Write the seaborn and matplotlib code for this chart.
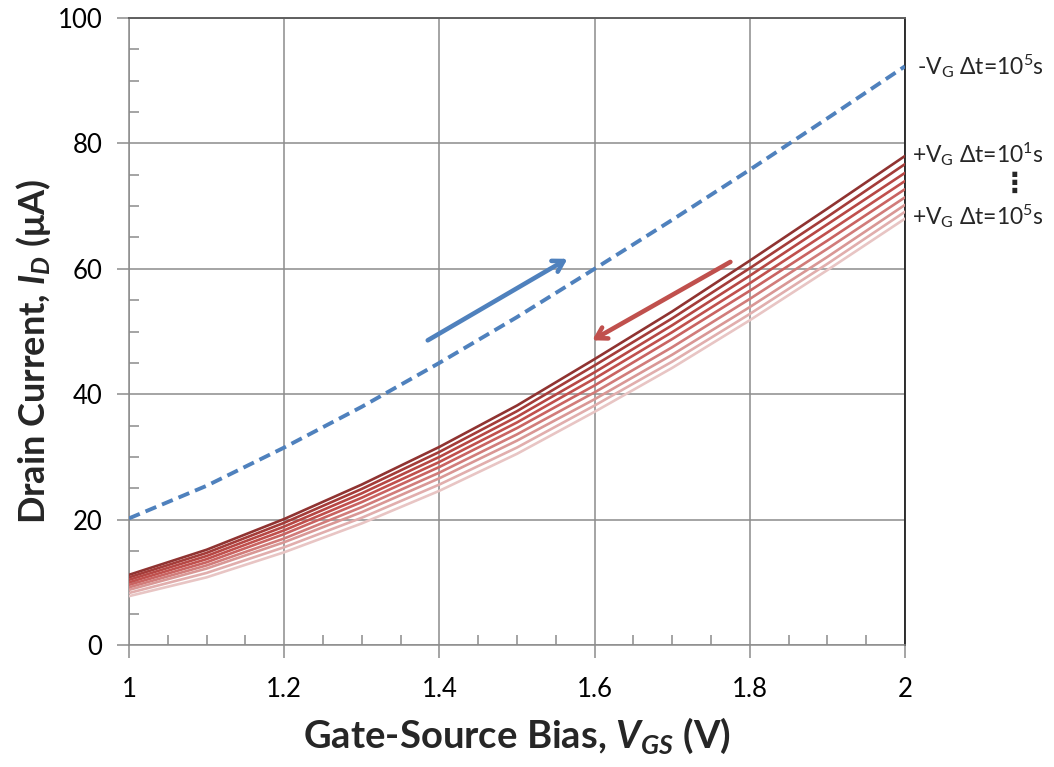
import numpy as np
import pandas as pd
import matplotlib
matplotlib.use("Agg")
import matplotlib.pyplot as plt
from matplotlib.ticker import MultipleLocator, FuncFormatter
import seaborn as sns

sns.set_style("white")
plt.rcParams["font.family"] = ["Lato", "DejaVu Sans"]
plt.rcParams["mathtext.fontset"] = "custom"
plt.rcParams["mathtext.rm"] = "Lato"
plt.rcParams["mathtext.it"] = "Lato:italic"
plt.rcParams["mathtext.bf"] = "Lato:bold"
plt.rcParams["mathtext.bfit"] = "Lato:bold:italic"

# Gate-source bias sweep (V)
vgs = [1.0, 1.1, 1.2, 1.3, 1.4, 1.5, 1.6, 1.7, 1.8, 1.9, 2.0]

# Drain current (uA) after negative gate stress, 1e5 s
neg_stress_1e5 = [20.2, 25.4, 31.5, 38.0, 45.0, 52.3, 60.0, 67.8, 75.8, 84.0, 92.3]

# Drain current (uA) after positive gate stress, 1e1 ... 1e5 s
pos_stress_times = ["1e1", "1e1.5", "1e2", "1e2.5", "1e3", "1e3.5", "1e4", "1e4.5", "1e5"]
pos_t1e1 = [11.2, 15.2, 20.1, 25.6, 31.6, 38.2, 45.6, 53.2, 61.3, 69.6, 78.0]
pos_t1e1_5 = [10.8, 14.7, 19.5, 24.9, 30.8, 37.3, 44.6, 52.1, 60.1, 68.3, 76.7]
pos_t1e2 = [10.4, 14.2, 18.9, 24.2, 30.0, 36.4, 43.5, 51.0, 58.9, 67.1, 75.3]
pos_t1e2_5 = [10.0, 13.7, 18.3, 23.5, 29.2, 35.5, 42.5, 49.9, 57.7, 65.8, 74.0]
pos_t1e3 = [9.6, 13.2, 17.7, 22.8, 28.4, 34.6, 41.4, 48.8, 56.5, 64.5, 72.7]
pos_t1e3_5 = [9.2, 12.7, 17.0, 22.0, 27.5, 33.6, 40.3, 47.5, 55.2, 63.2, 71.4]
pos_t1e4 = [8.8, 12.2, 16.4, 21.2, 26.6, 32.6, 39.2, 46.3, 53.9, 61.9, 70.2]
pos_t1e4_5 = [8.3, 11.5, 15.6, 20.3, 25.6, 31.5, 38.2, 45.2, 52.8, 60.8, 69.1]
pos_t1e5 = [7.8, 10.8, 14.8, 19.4, 24.6, 30.5, 37.2, 44.2, 51.8, 59.8, 68.0]
pos_curves = [pos_t1e1, pos_t1e1_5, pos_t1e2, pos_t1e2_5, pos_t1e3,
              pos_t1e3_5, pos_t1e4, pos_t1e4_5, pos_t1e5]

red_shades = ["#903331", "#A43C39", "#B64744", "#C0504D", "#C96361",
              "#D17C7A", "#D99795", "#E1AEAD", "#E8C5C4"]
blue = "#4F81BD"
arrow_red = "#C0504D"
grid_gray = "#8C8C8C"

pos_df = pd.DataFrame({
    "vgs": np.tile(vgs, len(pos_curves)),
    "id": np.concatenate(pos_curves),
    "time": np.repeat(pos_stress_times, len(vgs)),
})
neg_df = pd.DataFrame({"vgs": vgs, "id": neg_stress_1e5})

fig = plt.figure(figsize=(10.54, 7.67), dpi=100)
ax = fig.add_axes([0.1224, 0.159, 0.7362, 0.8175])

sns.lineplot(data=pos_df, x="vgs", y="id", hue="time", hue_order=pos_stress_times,
             palette=red_shades, linewidth=1.9, legend=False, ax=ax, zorder=3)
sns.lineplot(data=neg_df, x="vgs", y="id", color=blue, linewidth=2.8,
             dashes=False, legend=False, ax=ax, zorder=3)
ax.lines[-1].set_linestyle((0, (3.0, 1.6)))

ax.set_xlim(1, 2)
ax.set_ylim(0, 100)
ax.xaxis.set_major_locator(MultipleLocator(0.2))
ax.xaxis.set_minor_locator(MultipleLocator(0.05))
ax.yaxis.set_major_locator(MultipleLocator(20))
ax.yaxis.set_minor_locator(MultipleLocator(5))
ax.xaxis.set_major_formatter(FuncFormatter(lambda v, p: f"{v:g}"))

ax.grid(True, which="major", color=grid_gray, linewidth=1.1, zorder=0)
ax.set_axisbelow(True)
ax.tick_params(axis="both", which="major", direction="out", length=9,
               width=1.1, color=grid_gray, labelsize=18.5, labelcolor="black")
ax.tick_params(axis="x", which="major", pad=14)
ax.tick_params(axis="y", which="major", pad=10)
ax.tick_params(axis="both", which="minor", direction="in", length=7,
               width=1.1, color=grid_gray)
ax.tick_params(axis="y", which="both", left=True, right=False)
ax.tick_params(axis="x", which="both", bottom=True, top=False)

for side in ["left", "bottom"]:
    ax.spines[side].set_color(grid_gray)
    ax.spines[side].set_linewidth(1.1)
ax.spines["top"].set_color("#5F5F5F")
ax.spines["top"].set_linewidth(1.4)
ax.spines["right"].set_color("#222222")
ax.spines["right"].set_linewidth(1.3)

ax.set_xlabel(r"Gate-Source Bias, $\mathbfit{V}_{\mathbfit{GS}}$ (V)",
              fontsize=27.5, fontweight="bold", labelpad=10)
ax.set_ylabel(r"Drain Current, $\mathbfit{I}_{\mathbfit{D}}$ ($\mathbf{\mu}$A)",
              fontsize=26, fontweight="bold")
ax.yaxis.set_label_coords(-0.098, 0.468)

# Sweep direction arrows
arrow_style = "->,head_length=0.75,head_width=0.45"
ax.annotate("", xy=(1.565, 61.6), xytext=(1.385, 48.6),
            arrowprops=dict(arrowstyle=arrow_style, color=blue, lw=3.3,
                            shrinkA=0, shrinkB=0), zorder=4)
ax.annotate("", xy=(1.597, 48.6), xytext=(1.775, 61.1),
            arrowprops=dict(arrowstyle=arrow_style, color=arrow_red, lw=3.3,
                            shrinkA=0, shrinkB=0), zorder=4)

# Curve labels at the right edge
lab_kw = dict(fontsize=16.5, va="center", ha="left", clip_on=False,
              family=["Lato", "DejaVu Sans"])
ax.text(2.015, neg_stress_1e5[-1], r"-V$_{\mathrm{G}}$ Δt=10$^{5}$s", **lab_kw)
ax.text(2.009, 78.3, r"+V$_{\mathrm{G}}$ Δt=10$^{1}$s", **lab_kw)
ax.text(2.141, 73.6, "⋮", fontsize=20, va="center", ha="center", clip_on=False,
        fontweight="bold", family=["DejaVu Sans"])
ax.text(2.009, 68.4, r"+V$_{\mathrm{G}}$ Δt=10$^{5}$s", **lab_kw)

fig.savefig("out.png", dpi=100, facecolor="white")
